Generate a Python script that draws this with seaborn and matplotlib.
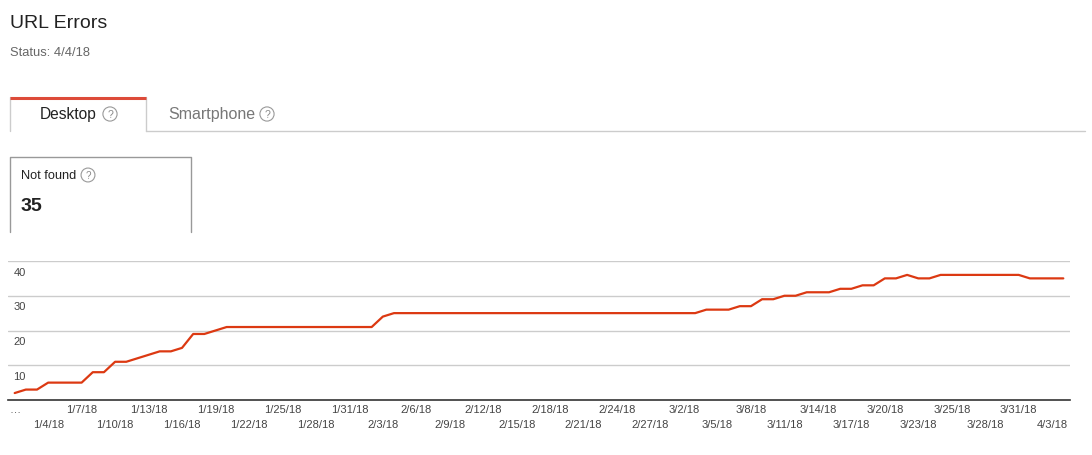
import matplotlib
matplotlib.use("Agg")
import matplotlib.pyplot as plt
import matplotlib.transforms as mtransforms
import seaborn as sns

# daily "Not found" counts, 1/1/18 .. 4/4/18
not_found = [2, 3, 3, 5, 5, 5, 5, 8, 8, 11, 11, 12, 13, 14, 14, 15, 19, 19, 20,
             21, 21, 21, 21, 21, 21, 21, 21, 21, 21, 21, 21, 21, 21,
             24,
             25, 25, 25, 25, 25, 25, 25, 25, 25, 25, 25, 25, 25, 25,
             25, 25, 25, 25, 25, 25, 25, 25, 25, 25, 25, 25, 25, 25,
             26, 26, 26, 27, 27, 29, 29, 30, 30, 31, 31, 31, 32, 32, 33, 33,
             35, 35, 36, 35, 35,
             36, 36, 36, 36, 36, 36, 36, 36,
             35, 35, 35, 35]
day_index = list(range(len(not_found)))

# one label every third point, alternating between two rows
tick_labels = ["…", "1/4/18", "1/7/18", "1/10/18", "1/13/18", "1/16/18", "1/19/18",
               "1/22/18", "1/25/18", "1/28/18", "1/31/18", "2/3/18", "2/6/18",
               "2/9/18", "2/12/18", "2/15/18", "2/18/18", "2/21/18", "2/24/18",
               "2/27/18", "3/2/18", "3/5/18", "3/8/18", "3/11/18", "3/14/18",
               "3/17/18", "3/20/18", "3/23/18", "3/25/18", "3/28/18", "3/31/18",
               "4/3/18"]
y_ticks = [10, 20, 30, 40]

sns.set_theme(style="white")
plt.rcParams['font.family'] = ['Liberation Sans', 'DejaVu Sans']

W, H = 1092, 456
fig = plt.figure(figsize=(W / 100, H / 100), dpi=100)

# chart axes, placed in pixels
left, right, top, bottom = 8, 1070, 262, 401
ax = fig.add_axes([left / W, (H - bottom) / H, (right - left) / W, (bottom - top) / H])
sns.lineplot(x=day_index, y=not_found, ax=ax, color="#dc3912", linewidth=1.6)
ax.set_xlim(-0.6, len(not_found) - 0.4)
ax.set_ylim(0, 40)
ax.set_xlabel("")
ax.set_ylabel("")

for s in ["top", "left", "right"]:
    ax.spines[s].set_visible(False)
ax.spines["bottom"].set_color("#333333")
ax.spines["bottom"].set_linewidth(1.2)
ax.spines["bottom"].set_zorder(5)

ax.set_yticks(y_ticks)
ax.set_yticklabels([str(v) for v in y_ticks])
ax.yaxis.grid(True, color="#cccccc", linewidth=1)
ax.tick_params(axis="y", length=0, pad=-4, labelsize=8, labelcolor="#444444")
offset = mtransforms.ScaledTranslation(0, -4 / 72, fig.dpi_scale_trans)
for lab in ax.get_yticklabels():
    lab.set_horizontalalignment("left")
    lab.set_verticalalignment("top")
    lab.set_transform(lab.get_transform() + offset)

major_pos = [3 * i for i in range(0, len(tick_labels), 2)]
minor_pos = [3 * i for i in range(1, len(tick_labels), 2)]
ax.set_xticks(major_pos, labels=tick_labels[0::2])
ax.set_xticks(minor_pos, labels=tick_labels[1::2], minor=True)
ax.tick_params(axis="x", which="both", length=0, labelsize=8, labelcolor="#444444")
ax.tick_params(axis="x", which="major", pad=3)
ax.tick_params(axis="x", which="minor", pad=13.5)

# page furniture in pixel coordinates
ov = fig.add_axes([0, 0, 1, 1], zorder=-1)
ov.set_xlim(0, W)
ov.set_ylim(H, 0)
ov.axis("off")

ov.text(10, 24, "URL Errors", fontsize=14, color="#222222", va="center")
ov.text(10, 53, "Status: 4/4/18", fontsize=9.3, color="#666666", va="center")

# tabs
ov.plot([10, 10], [98, 132], color="#cccccc", lw=1)
ov.plot([146, 146], [98, 132], color="#cccccc", lw=1)
ov.plot([10, 146], [98.5, 98.5], color="#dd4b39", lw=2.2, solid_capstyle="butt")
ov.plot([146, 1085], [132, 132], color="#cccccc", lw=1)
ov.text(40, 115, "Desktop", fontsize=11.2, color="#222222", va="center")
ov.text(168, 115, "Smartphone", fontsize=11.5, color="#777777", va="center")

# card
ov.plot([10, 10, 191, 191], [233, 158, 158, 233], color="#999999", lw=1)
ov.text(21, 176, "Not found", fontsize=9.2, color="#222222", va="center")
ov.text(21, 207, "35", fontsize=14, fontweight="bold", color="#222222", va="center")

for qx, qy, fs in [(110, 115, 7.5), (267, 115, 7.5), (88, 176, 7)]:
    ov.text(qx, qy, "?", fontsize=fs, color="#888888", ha="center", va="center",
            bbox=dict(boxstyle="circle,pad=0.2", fc="white", ec="#999999", lw=0.8))

fig.savefig("out.png", dpi=100)
